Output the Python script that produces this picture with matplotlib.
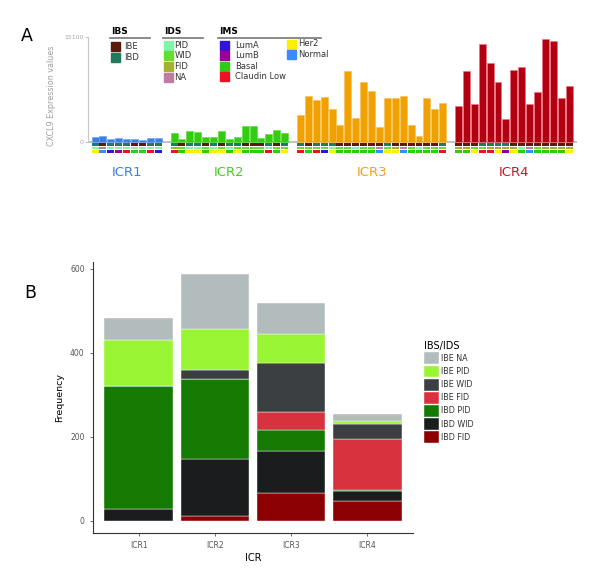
import numpy as np
import matplotlib
matplotlib.use("Agg")
import matplotlib.pyplot as plt
from matplotlib.patches import Rectangle, Patch
from matplotlib.lines import Line2D

# ---- panel A data: CXCL9 expression per sample, per ICR cluster
icr1_vals = [720, 820, 380, 530, 430, 430, 330, 620, 580]
icr2_vals = [1290, 380, 1540, 1390, 670, 770, 1580, 380, 670, 2350, 2350, 580, 1200, 1680, 1250]
icr3_vals = [3930, 6660, 5990, 6520, 4790, 2400, 10210, 3500, 8680, 7290, 2200, 6370,
             6280, 6660, 2400, 820, 6280, 4750, 5610]
icr4_vals = [5180, 10260, 5510, 14050, 11310, 8680, 3310, 10400, 10740, 5510, 7240,
             14810, 14520, 6280, 8010]

# annotation tracks (one letter per sample)
icr1_ibs = "DEDDDEEDD"
icr2_ibs = "DEDDEDEDDEEEDED"
icr3_ibs = "DEDDDEEEEEEDEEEEEED"
icr4_ibs = "EEEDDDDEEEEEEEE"

icr1_ids = "PNPPPPPPP"
icr2_ids = "FWPPWPWPWWWWPWW"
icr3_ids = "WWWWPWWPWWNWFNWPWWW"
icr4_ids = "FFWWFFFFPNWFFFF"

icr1_ims = "HNABCSSCA"
icr2_ims = "CSHHSHHSHSSSCSH"
icr3_ims = "CSCAHSSSSSNHHNSSSSC"
icr4_ims = "SSHCCHBHSNSSSSH"

# ---- panel B data: stacked frequencies
icr_labels = ["ICR1", "ICR2", "ICR3", "ICR4"]
ibd_fid = [0, 12, 66, 48]
ibd_wid = [28, 135, 100, 22]
ibd_pid = [294, 190, 51, 3]
ibe_fid = [0, 0, 41, 122]
ibe_wid = [0, 23, 119, 35]
ibe_pid = [109, 96, 68, 7]
ibe_na = [52, 132, 73, 17]

# colours
ibs_cols = {"E": "#5a1a0c", "D": "#1f7a5e"}
ids_cols = {"P": "#80f5a8", "W": "#66dd33", "F": "#a8b030", "N": "#c07ca0"}
ims_cols = {"A": "#3512d8", "B": "#980098", "S": "#2ccc10", "C": "#ee1024",
            "H": "#fff000", "N": "#3a8cff"}
grp_cols = ["#3a7fe6", "#33cc11", "#f0a000", "#b30010"]
grp_edge = ["#6aa0f0", "#55dd33", "#f8c050", "#f07080"]
txt_cols = ["#3a7fe0", "#44cc22", "#f0a020", "#c01828"]

W, H = 593, 576
fig = plt.figure(figsize=(W / 100, H / 100), dpi=100)


def fx(x):
    return x / W


def fy(y):
    return 1 - y / H


def box(x0, y0, x1, y1):
    return [fx(x0), fy(y1), fx(x1) - fx(x0), fy(y0) - fy(y1)]


# ================= panel A =================
ax = fig.add_axes(box(88, 37, 577, 154.5))
ax.set_ylim(-1800, 15100)
ax.set_xlim(-0.89, 61.0)

groups = [(icr1_vals, icr1_ibs, icr1_ids, icr1_ims),
          (icr2_vals, icr2_ibs, icr2_ids, icr2_ims),
          (icr3_vals, icr3_ibs, icr3_ids, icr3_ims),
          (icr4_vals, icr4_ibs, icr4_ids, icr4_ims)]

start = 0
bw = 0.88
for g, (vals, ibs, ids, ims) in enumerate(groups):
    xs = np.arange(start, start + len(vals))
    ax.bar(xs, vals, width=bw, color=grp_cols[g], edgecolor=grp_edge[g], linewidth=0.4)
    # annotation tracks under the baseline
    ax.bar(xs, 475, bottom=-575, width=bw, color=[ibs_cols[c] for c in ibs], linewidth=0)
    ax.bar(xs, 400, bottom=-1080, width=bw, color=[ids_cols[c] for c in ids], linewidth=0)
    ax.bar(xs, 460, bottom=-1650, width=bw, color=[ims_cols[c] for c in ims], linewidth=0)
    ax.text(xs.mean(), -4450, icr_labels[g], color=txt_cols[g], fontsize=9.5,
            ha="center", va="center", clip_on=False)
    start += len(vals) + 1

ax.axhline(0, color="#bdbdbd", lw=1.3, zorder=0)
for s in ["top", "right", "bottom"]:
    ax.spines[s].set_visible(False)
ax.spines["left"].set_color("#c8c8c8")
ax.spines["left"].set_bounds(0, 15100)
ax.set_xticks([])
ax.set_yticks([0, 15100])
ax.tick_params(axis="y", colors="#aaaaaa", labelsize=4.5, length=2, width=0.5, pad=1)
ax.set_ylabel("CXCL9 Expression values", color="#a0a0a0", fontsize=5.8, labelpad=6)

# panel A legends, drawn in figure pixels
def leg_head(x, y, x_end, title):
    fig.text(fx(x), fy(y), title, fontsize=6.5, fontweight="bold", va="center", ha="left")
    fig.add_artist(Line2D([fx(x - 1), fx(x_end)], [fy(38), fy(38)], color="#777777", lw=1.2))


def leg_item(x, y, col, label, tx):
    fig.add_artist(Rectangle((fx(x), fy(y + 4.5)), fx(8.5), 9 / H, color=col,
                             transform=fig.transFigure))
    fig.text(fx(tx), fy(y), label, fontsize=6, va="center", ha="left", color="#333333")


leg_head(111, 32, 150, "IBS")
leg_item(111, 46.5, ibs_cols["E"], "IBE", 124)
leg_item(111, 57, ibs_cols["D"], "IBD", 124)

leg_head(164, 32, 203, "IDS")
for i, (k, lab) in enumerate(zip("PWFN", ["PID", "WID", "FID", "NA"])):
    leg_item(164, 45.3 + 10.6 * i, ids_cols[k], lab, 174.5)

leg_head(219, 32, 321, "IMS")
for i, (k, lab) in enumerate(zip("ABSC", ["LumA", "LumB", "Basal", "Claudin Low"])):
    leg_item(220, 45 + 10.6 * i, ims_cols[k], lab, 235)
leg_item(287, 44, ims_cols["H"], "Her2", 298)
leg_item(287, 54.7, ims_cols["N"], "Normal", 298)

fig.text(fx(27), fy(36), "A", fontsize=12.5, ha="center", va="center")
fig.text(fx(30), fy(293), "B", fontsize=12.5, ha="center", va="center")

# ================= panel B =================
bx = fig.add_axes(box(93, 262, 413, 533))
series = [ibd_fid, ibd_wid, ibd_pid, ibe_fid, ibe_wid, ibe_pid, ibe_na]
names = ["IBD FID", "IBD WID", "IBD PID", "IBE FID", "IBE WID", "IBE PID", "IBE NA"]
cols = ["#8b0000", "#1a1c1d", "#157a02", "#d9323f", "#3b3f42", "#99f533", "#b3bcbc"]

x = np.arange(1, 5)
bottom = np.zeros(4)
for vals, c in zip(series, cols):
    bx.bar(x, vals, bottom=bottom, width=0.9, color=c, edgecolor="white", linewidth=0.3)
    bottom += np.array(vals)

bx.set_xlim(0.4, 4.6)
bx.set_ylim(-29.3, 616.6)
bx.set_xticks(x)
bx.set_xticklabels(icr_labels)
bx.set_yticks([0, 200, 400, 600])
for s in ["top", "right"]:
    bx.spines[s].set_visible(False)
for s in ["left", "bottom"]:
    bx.spines[s].set_color("#333333")
    bx.spines[s].set_linewidth(0.8)
bx.tick_params(colors="#555555", labelsize=5.5, length=2.5, width=0.6)
bx.tick_params(axis="both", labelcolor="#555555")
bx.set_xlabel("ICR", fontsize=7, labelpad=2)
bx.set_ylabel("Frequency", fontsize=6.8, labelpad=4)

handles = [Patch(facecolor=c, edgecolor="white", linewidth=0.3) for c in cols[::-1]]
leg = fig.legend(handles, names[::-1], title="IBS/IDS", loc="upper left",
                 bbox_to_anchor=(fx(421), fy(338)), frameon=False, fontsize=5.8,
                 title_fontsize=7, handlelength=1.8, handleheight=1.9,
                 labelspacing=0.15, handletextpad=0.3, borderaxespad=0)
leg._legend_box.align = "left"
for t in leg.get_texts():
    t.set_color("#333333")

fig.savefig("out.png", dpi=100)
